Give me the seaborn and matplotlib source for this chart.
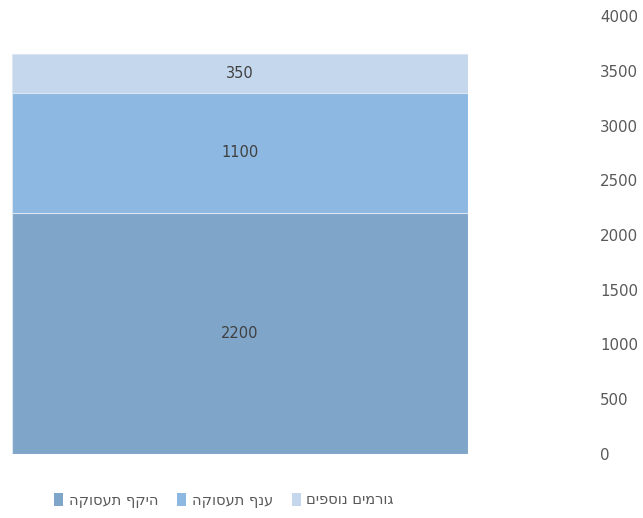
import matplotlib
matplotlib.use("Agg")
import matplotlib.pyplot as plt
import seaborn as sns
import pandas as pd
import numpy as np
from matplotlib.patches import Patch

# Data (bottom to top)
series = ["היקף תעסוקה", "ענף תעסוקה", "גורמים נוספים"]
values = [2200, 1100, 350]
colors = ["#7FA5C9", "#8CB8E1", "#C5D7EC"]
yticks = [0, 500, 1000, 1500, 2000, 2500, 3000, 3500, 4000]

def heb(s):
    # matplotlib has no bidi support: reverse for right-to-left display
    return s[::-1]

sns.set_theme(style="white")
plt.rcParams['font.family'] = ['DejaVu Sans']

fig = plt.figure(figsize=(6.43, 5.18), dpi=100)
ax = fig.add_axes([12/643, (518-454)/518, (468-12)/643, 438/518])

cum = np.cumsum(values)
df = pd.DataFrame({"cat": ["a"] * len(series), "series": series, "top": cum})
# draw largest totals first so smaller ones overlay
for i in range(len(series) - 1, -1, -1):
    sns.barplot(data=df.iloc[[i]], x="cat", y="top", color=colors[i],
                width=1.0, ax=ax, edgecolor="#DCE6F2", linewidth=0.8,
                saturation=1)

bottoms = np.concatenate([[0], cum[:-1]])
for b, v in zip(bottoms, values):
    ax.text(0, b + v / 2, str(v), ha="center", va="center",
            fontsize=10.5, color="#404040")

ax.set_xlim(-0.5, 0.5)
ax.set_ylim(0, 4000)
ax.set_xlabel("")
ax.set_ylabel("")
ax.set_xticks([])
ax.yaxis.tick_right()
ax.set_yticks(yticks)
ax.set_yticklabels([str(t) for t in yticks], fontsize=10.8, color="#595959")
ax.tick_params(axis="y", length=0, pad=95)
for lbl in ax.get_yticklabels():
    lbl.set_horizontalalignment("left")
for s in ax.spines.values():
    s.set_visible(False)

handles = [Patch(facecolor=c, edgecolor="none") for c in colors]
leg = fig.legend(handles, [heb(s) for s in series], loc="center",
                 bbox_to_anchor=(224/643, 1 - 500/518), ncol=3, frameon=False,
                 fontsize=10.5, handlelength=0.6, handleheight=0.9,
                 handletextpad=0.4, columnspacing=1.3)
for t in leg.get_texts():
    t.set_color("#595959")

fig.savefig("out.png", dpi=100)
